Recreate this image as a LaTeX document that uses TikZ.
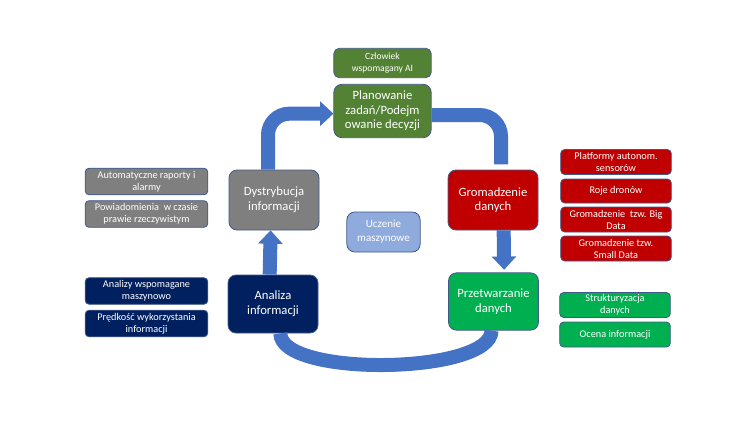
\documentclass[tikz,border=0pt]{standalone}
\usepackage{fontspec}
\setmainfont{Carlito}
\usetikzlibrary{arrows.meta}

\definecolor{planGreen}{HTML}{548235}
\definecolor{infoGrey}{HTML}{7F7F7F}
\definecolor{dataRed}{HTML}{C00000}
\definecolor{infoNavy}{HTML}{002060}
\definecolor{procGreen}{HTML}{00B050}
\definecolor{mlBlue}{HTML}{8FAADC}
\definecolor{flowBlue}{HTML}{4472C4}
\definecolor{edgeBlue}{HTML}{41598A}

\tikzset{
  box/.style={draw=edgeBlue, line width=0.6pt, rounded corners=6pt, text=white,
    align=center, inner sep=1pt},
  bigbox/.style={box, minimum width=67.5pt, minimum height=45pt,
    font=\fontsize{9.5}{11}\selectfont},
  leftbox/.style={box, rounded corners=3pt, minimum width=92pt, minimum height=20pt,
    font=\fontsize{7.7}{9}\selectfont},
  rightbox/.style={box, rounded corners=3pt, minimum width=83pt, minimum height=18.75pt,
    font=\fontsize{7.7}{9}\selectfont},
  flow/.style={draw=flowBlue, line width=10.5pt},
  flowtip/.style={-{Triangle[width=18pt,length=10pt]}}
}

\begin{document}
\begin{tikzpicture}[x=0.75pt,y=-0.75pt]
\useasboundingbox (0,0) rectangle (756,425);

% main cycle
\node[bigbox, fill=planGreen, minimum width=73pt, minimum height=40pt] (plan) at (382.5,111) {Planowanie\\zadań/Podejm\\owanie decyzji};
\node[box, fill=planGreen, rounded corners=4pt, minimum width=73pt, minimum height=22pt,
  font=\fontsize{7.2}{8.8}\selectfont] (human) at (382.5,63) {Człowiek\\wspomagany AI};
\node[bigbox, fill=infoGrey] (dist) at (274,200) {Dystrybucja\\informacji};
\node[bigbox, fill=dataRed] (collect) at (493,200) {Gromadzenie\\danych};
\node[bigbox, fill=infoNavy, minimum height=43.5pt] (analysis) at (273,304) {Analiza\\informacji};
\node[bigbox, fill=procGreen, minimum height=43pt] (process) at (493.5,301.5) {Przetwarzanie\\danych};
\node[box, fill=mlBlue, minimum width=55pt, minimum height=30pt,
  font=\fontsize{8.3}{10.5}\selectfont] (ml) at (383.5,232) {Uczenie\\maszynowe};

% left side
\node[leftbox, fill=infoGrey] (reports) at (146.5,181.5) {Automatyczne raporty i\\alarmy};
\node[leftbox, fill=infoGrey] (alerts) at (146.5,214) {Powiadomienia~ w czasie\\prawie rzeczywistym};
\node[leftbox, fill=infoNavy] (assisted) at (146.5,291) {Analizy wspomagane\\maszynowo};
\node[leftbox, fill=infoNavy] (speed) at (146.5,323.5) {Prędkość wykorzystania\\informacji};

% right side
\node[rightbox, fill=dataRed] (platforms) at (616,162) {Platformy autonom.\\sensorów};
\node[rightbox, fill=dataRed, minimum height=18pt] (drones) at (616,191) {Roje dronów};
\node[rightbox, fill=dataRed] (bigdata) at (616,219.5) {Gromadzenie~ tzw. Big\\Data};
\node[rightbox, fill=dataRed] (smalldata) at (616,248.5) {Gromadzenie tzw.\\Small Data};
\node[rightbox, fill=procGreen] (structure) at (615,305) {Strukturyzacja\\danych};
\node[rightbox, fill=procGreen] (assess) at (615,334.5) {Ocena informacji};

% arrows
\draw[flow, flowtip, rounded corners=16pt] ([xshift=-4.5pt]dist.north) |- ([yshift=-2pt]plan.west);
\draw[flow, rounded corners=16pt, shorten >=4pt] ([yshift=-3pt]plan.east) -| ([xshift=6pt]collect.north);
\draw[flow, flowtip, shorten >=2pt] ([xshift=8pt]collect.south) -- ([xshift=8pt]process.north);
\draw[flow] ([xshift=-1.5pt]process.south) .. controls +(0,-33pt) and +(0,-33pt) .. ([xshift=5.5pt]analysis.south);
\draw[flow, flowtip] ([xshift=-2.5pt]analysis.north) -- ([xshift=-2.5pt]dist.south);
\end{tikzpicture}
\end{document}
